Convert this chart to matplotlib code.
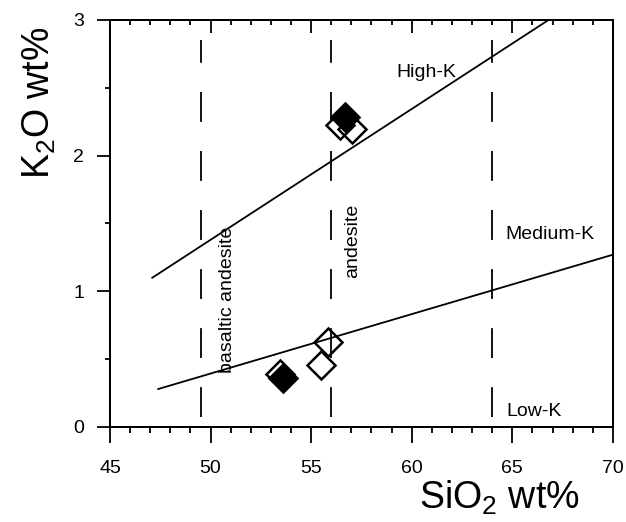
import matplotlib
matplotlib.use("Agg")
import matplotlib.pyplot as plt
from matplotlib.ticker import MultipleLocator

plt.rcParams['font.family'] = ['Liberation Sans', 'DejaVu Sans']
plt.rcParams['mathtext.fontset'] = 'custom'
plt.rcParams['mathtext.rm'] = 'Liberation Sans'
plt.rcParams['mathtext.it'] = 'Liberation Sans:italic'
plt.rcParams['mathtext.bf'] = 'Liberation Sans:bold'
plt.rcParams['lines.scale_dashes'] = False

# ---- data ----
si_open = [56.43, 57.03, 53.46, 55.51, 55.86]
k_open = [2.226, 2.20, 0.39, 0.457, 0.626]
si_filled = [56.68, 53.6]
k_filled = [2.285, 0.36]

highk_si = [47.1, 66.8]
highk_k = [1.10, 3.0]
lowk_si = [47.4, 70.0]
lowk_k = [0.28, 1.27]

divider_si = [49.5, 56.0, 64.0]
divider_k = [0.07, 2.85]

xticks = [45, 50, 55, 60, 65, 70]
yticks = [0, 1, 2, 3]

fig = plt.figure(figsize=(6.26, 5.22), dpi=100)
ax = fig.add_axes([0.1757, 0.182, 0.8033, 0.7797])
ax.set_xlim(45, 70)
ax.set_ylim(0, 3)

for xv in divider_si:
    ax.plot([xv, xv], divider_k, color='black', lw=1.3, dashes=(21.5, 21.0))

ax.plot(highk_si, highk_k, color='black', lw=1.3)
ax.plot(lowk_si, lowk_k, color='black', lw=1.3)

ax.plot(si_open, k_open, linestyle='none', marker='D', ms=14,
        mfc='none', mec='black', mew=1.8, zorder=3)
ax.plot(si_filled, k_filled, linestyle='none', marker='D', ms=14,
        mfc='black', mec='black', mew=1.8, zorder=4)

ax.text(59.25, 2.616, 'High-K', fontsize=14, ha='left', va='center')
ax.text(64.68, 1.42, 'Medium-K', fontsize=14, ha='left', va='center')
ax.text(64.71, 0.113, 'Low-K', fontsize=14, ha='left', va='center')
ax.text(50.86, 0.395, 'basaltic andesite', fontsize=14, rotation=90,
        ha='center', va='bottom')
ax.text(57.05, 1.098, 'andesite', fontsize=14, rotation=90,
        ha='center', va='bottom')

ax.set_xticks(xticks)
ax.set_yticks(yticks)
ax.xaxis.set_minor_locator(MultipleLocator(1))
ax.yaxis.set_minor_locator(MultipleLocator(0.5))
ax.tick_params(axis='x', which='major', direction='out', length=11.5, width=1.3,
               labelsize=14, pad=12, top=False)
ax.tick_params(axis='x', which='minor', direction='out', length=4.3, width=1.3,
               top=False)
ax.tick_params(axis='y', which='major', direction='out', length=9.5, width=1.3,
               labelsize=14, pad=9, right=False)
ax.tick_params(axis='y', which='minor', direction='out', length=3.5, width=1.3,
               right=False)

# top axis: inward ticks, no labels
ax2 = ax.twiny()
ax2.set_xlim(ax.get_xlim())
ax2.set_xticks(xticks)
ax2.xaxis.set_minor_locator(MultipleLocator(1))
ax2.tick_params(axis='x', which='major', direction='in', length=9.5, width=1.3,
                top=True, bottom=False, labeltop=False, labelbottom=False)
ax2.tick_params(axis='x', which='minor', direction='in', length=3.6, width=1.3,
                top=True, bottom=False)
ax2.tick_params(axis='y', left=False, right=False, labelleft=False, labelright=False)

for a in (ax, ax2):
    for s in a.spines.values():
        s.set_linewidth(1.4)

ax.set_xlabel('SiO$_2$ wt%', fontsize=27)
ax.set_ylabel('K$_2$O wt%', fontsize=27)
ax.xaxis.set_label_coords(0.775, -0.127)
ax.yaxis.set_label_coords(-0.104, 0.797)

fig.savefig('out.png', dpi=100)
